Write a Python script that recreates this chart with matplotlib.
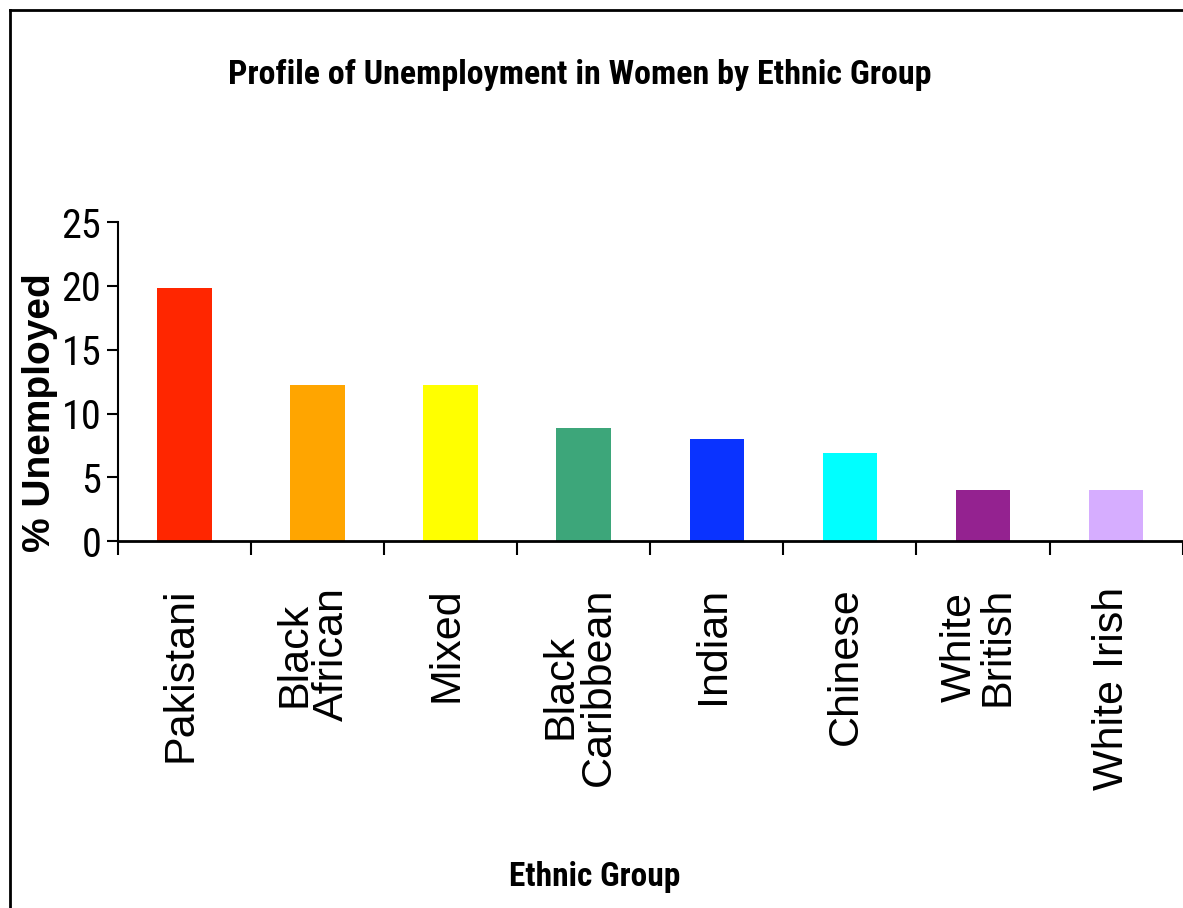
import matplotlib
matplotlib.use("Agg")
import matplotlib.pyplot as plt
from matplotlib.lines import Line2D
import numpy as np

groups = ["Pakistani", "Black\nAfrican", "Mixed", "Black\nCaribbean", "Indian",
          "Chinese", "White\nBritish", "White Irish"]
unemployed = [19.8, 12.2, 12.2, 8.9, 8.0, 6.9, 4.0, 4.0]
colors = ["#FF2600", "#FFA500", "#FFFF00", "#3DA67A", "#0A33FF",
          "#00FFFF", "#942290", "#D6ADFF"]
yticks = [0, 5, 10, 15, 20, 25]

narrow = ["Roboto Condensed", "Liberation Sans Narrow", "DejaVu Sans"]
arial = ["Liberation Sans", "DejaVu Sans"]

fig = plt.figure(figsize=(11.83, 9.08), dpi=100)
ax = fig.add_axes([0.0997, 0.404, 0.9, 0.3515])

x = np.arange(len(groups))
ax.bar(x, unemployed, width=0.41, color=colors, zorder=2)

ax.set_xlim(-0.5, len(groups) - 0.5)
ax.set_ylim(0, 25)
ax.set_yticks(yticks)
ax.set_yticklabels([str(t) for t in yticks], family=narrow, fontstretch="condensed",
                   fontsize=29)
ax.set_xticks(np.arange(len(groups) + 1) - 0.5)
ax.set_xticklabels([])
ax.tick_params(axis="y", direction="out", length=8, width=1.5, pad=4)
ax.tick_params(axis="x", direction="out", length=10, width=1.5)

for s in ["top", "right"]:
    ax.spines[s].set_visible(False)
ax.spines["left"].set_linewidth(1.5)
ax.spines["bottom"].set_linewidth(2)

for i, g in enumerate(groups):
    ax.text(i - 0.03, -3.6, g, rotation=90, ha="center", va="top",
            multialignment="center", family=arial, fontsize=31,
            linespacing=0.92)

fig.text(0.49, 0.917, "Profile of Unemployment in Women by Ethnic Group",
         family=narrow, fontstretch="condensed", fontsize=24.5, fontweight="bold",
         ha="center", va="center")
fig.text(0.503, 0.034, "Ethnic Group", family=narrow, fontstretch="condensed",
         fontsize=24, fontweight="bold", ha="center", va="center")
fig.text(0.034, 0.546, "% Unemployed", family=arial, fontsize=28,
         fontweight="bold", rotation=90, ha="center", va="center")

# page border
fig.add_artist(Line2D([10 / 1183, 10 / 1183], [0, 1 - 10 / 908],
                      transform=fig.transFigure, color="black", lw=2))
fig.add_artist(Line2D([10 / 1183, 1.01], [1 - 10 / 908, 1 - 10 / 908],
                      transform=fig.transFigure, color="black", lw=2))

fig.savefig("out.png", dpi=100)
